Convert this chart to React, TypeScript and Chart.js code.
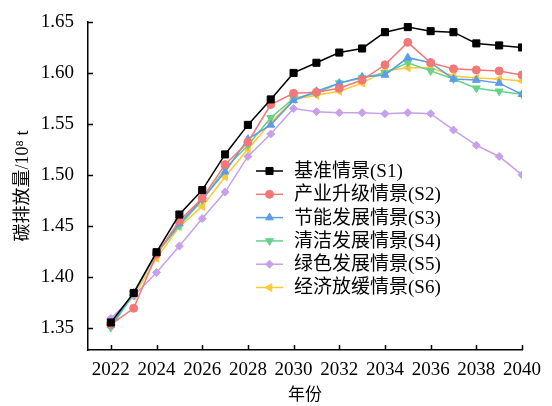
import React, { useEffect, useRef } from "react";
import { Chart, registerables } from "chart.js";
import { drawPoint } from "chart.js/helpers";

Chart.register(...registerables);

const years = [2022, 2023, 2024, 2025, 2026, 2027, 2028, 2029, 2030, 2031, 2032, 2033, 2034, 2035, 2036, 2037, 2038, 2039, 2040];
const xTickValues = [2022, 2024, 2026, 2028, 2030, 2032, 2034, 2036, 2038, 2040];
const yTickValues = [1.35, 1.4, 1.45, 1.5, 1.55, 1.6, 1.65];

const seriesNames = ["基准情景(S1)", "产业升级情景(S2)", "节能发展情景(S3)", "清洁发展情景(S4)", "绿色发展情景(S5)", "经济放缓情景(S6)"];

const s1 = [1.355, 1.384, 1.424, 1.461, 1.485, 1.52, 1.549, 1.574, 1.6, 1.61, 1.62, 1.624, 1.64, 1.645, 1.641, 1.64, 1.629, 1.627, 1.625];
const s2 = [1.353, 1.369, 1.422, 1.455, 1.477, 1.51, 1.532, 1.569, 1.58, 1.581, 1.585, 1.593, 1.608, 1.63, 1.61, 1.604, 1.603, 1.602, 1.598];
const s3 = [1.352, 1.384, 1.423, 1.452, 1.476, 1.503, 1.535, 1.549, 1.573, 1.582, 1.59, 1.596, 1.598, 1.615, 1.61, 1.594, 1.593, 1.59, 1.579];
const s4 = [1.35, 1.383, 1.423, 1.45, 1.475, 1.506, 1.529, 1.556, 1.575, 1.58, 1.59, 1.595, 1.6, 1.61, 1.602, 1.594, 1.585, 1.582, 1.579];
const s5 = [1.359, 1.381, 1.404, 1.43, 1.457, 1.483, 1.518, 1.54, 1.565, 1.562, 1.561, 1.561, 1.56, 1.561, 1.56, 1.544, 1.529, 1.518, 1.5];
const s6 = [1.355, 1.381, 1.418, 1.449, 1.469, 1.498, 1.525, 1.551, 1.574, 1.578, 1.582, 1.59, 1.602, 1.605, 1.605, 1.597, 1.595, 1.594, 1.592];

const seriesValues = [s1, s2, s3, s4, s5, s6];
const colors = ["#000000", "#F27777", "#5D9BEB", "#63D38C", "#C7A0EC", "#FFC933"];
const pointStyles = ["rect", "circle", "triangle", "triangle", "rectRot", "triangle"];
const rotations = [0, 0, 0, 180, 0, 270];
const radii = [5, 4, 4.5, 4.5, 4, 4.5];

const FONT = '"Liberation Serif", "Times New Roman", "Noto Sans CJK SC", serif';

const tickPlugin = {
  id: "innerTicks",
  afterDraw(chart: any) {
    const ctx = chart.ctx;
    const xs = chart.scales.x;
    const ys = chart.scales.y;
    const area = chart.chartArea;
    ctx.save();
    ctx.strokeStyle = "#000";
    ctx.lineWidth = 1.5;
    ctx.beginPath();
    xTickValues.forEach((v) => {
      const px = Math.round(xs.getPixelForValue(v)) + 0.5;
      ctx.moveTo(px, area.bottom);
      ctx.lineTo(px, area.bottom - 5);
    });
    yTickValues.forEach((v) => {
      const py = Math.round(ys.getPixelForValue(v)) + 0.5;
      ctx.moveTo(area.left, py);
      ctx.lineTo(area.left + 5, py);
    });
    ctx.stroke();

    // legend
    const lx0 = area.left + 168;
    const lx1 = area.left + 195;
    const tx = area.left + 206;
    const y0 = area.top + 149;
    const dy = 23.3;
    ctx.font = "19px " + FONT;
    ctx.textBaseline = "middle";
    ctx.textAlign = "left";
    chart.data.datasets.forEach((ds: any, i: number) => {
      const y = y0 + i * dy;
      ctx.strokeStyle = ds.borderColor;
      ctx.lineWidth = 1.5;
      ctx.beginPath();
      ctx.moveTo(lx0, y);
      ctx.lineTo(lx1, y);
      ctx.stroke();
      ctx.fillStyle = ds.borderColor;
      ctx.strokeStyle = ds.borderColor;
      ctx.lineWidth = 1;
      drawPoint(ctx, { pointStyle: ds.pointStyle, rotation: ds.pointRotation, radius: ds.pointRadius, borderWidth: 1 }, (lx0 + lx1) / 2, y);
      ctx.fillStyle = "#000";
      ctx.fillText(ds.label, tx, y + 1);
    });
    ctx.restore();
  },
};

export default function App() {
  const ref = useRef<HTMLCanvasElement | null>(null);
  useEffect(() => {
    if (!ref.current) return;
    const chart = new Chart(ref.current, {
      type: "line",
      data: {
        datasets: seriesValues.map((vals, i) => ({
          label: seriesNames[i],
          data: years.map((y, j) => ({ x: y, y: vals[j] })),
          borderColor: colors[i],
          backgroundColor: colors[i],
          pointBackgroundColor: colors[i],
          pointBorderColor: colors[i],
          pointStyle: pointStyles[i],
          pointRotation: rotations[i],
          pointRadius: radii[i],
          pointBorderWidth: 1,
          borderWidth: 1.5,
          tension: 0,
          fill: false,
        })),
      },
      options: {
        animation: false,
        responsive: false,
        events: [],
        layout: { padding: { top: 22, right: 30, left: 0, bottom: 0 } },
        plugins: {
          legend: { display: false },
          tooltip: { enabled: false },
        },
        scales: {
          x: {
            type: "linear",
            min: 2021,
            max: 2040,
            afterBuildTicks: (s: any) => {
              s.ticks = xTickValues.map((v) => ({ value: v }));
            },
            afterFit: (s: any) => {
              s.height = 56;
            },
            grid: { display: false },
            border: { display: true, color: "#000", width: 1.5 },
            ticks: {
              autoSkip: false,
              maxRotation: 0,
              padding: 1,
              color: "#000",
              font: { family: FONT, size: 19 },
              callback: (v: any) => String(v),
            },
            title: {
              display: true,
              text: "年份",
              color: "#000",
              font: { family: FONT, size: 17 },
              padding: { top: 0, bottom: 0 },
            },
          },
          y: {
            type: "linear",
            min: 1.328,
            max: 1.65,
            afterBuildTicks: (s: any) => {
              s.ticks = yTickValues.map((v) => ({ value: v }));
            },
            afterFit: (s: any) => {
              s.width = 88;
            },
            grid: { display: false },
            border: { display: true, color: "#000", width: 1.5 },
            ticks: {
              padding: 6,
              color: "#000",
              font: { family: FONT, size: 19 },
              callback: (v: any) => Number(v).toFixed(2),
            },
            title: {
              display: true,
              text: "碳排放量/10⁸ t",
              color: "#000",
              font: { family: FONT, size: 18 },
              padding: { top: 12, bottom: 0 },
            },
          },
        },
      },
      plugins: [tickPlugin],
    } as any);
    return () => chart.destroy();
  }, []);
  return (
    <div style={{ position: "fixed", left: 0, top: 0, width: 552, height: 406, background: "#fff" }}>
      <canvas ref={ref} width={552} height={406} />
    </div>
  );
}
